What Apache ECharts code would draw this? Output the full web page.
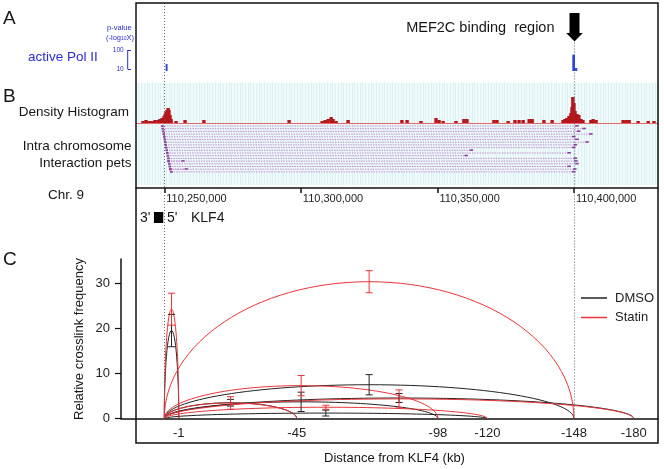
<!DOCTYPE html>
<html>
<head>
<meta charset="utf-8">
<script src="https://cdn.jsdelivr.net/npm/echarts@6/dist/echarts.min.js"></script>
<style>
html,body{margin:0;padding:0;background:#fff;}
#chart{width:664px;height:469px;}
</style>
</head>
<body>
<div id="chart"></div>
<script>
// ================= DATA =================
// Genomic positions in kb relative to chr9:110,250,000 (KLF4 promoter)
const genomeTickKb = [0, 50, 100, 150];
const genomeTickLabels = ['110,250,000', '110,300,000', '110,350,000', '110,400,000'];
const anchorKb = [0, 150]; // KLF4 promoter, MEF2C binding region

// active Pol II peaks (p-value, -log10)
const polIIStartKb = [0.5, 149.4, 150.4];
const polIIEndKb   = [1.2, 150.4, 151.2];
const polIIPvalue  = [18.3, 56.6, 11.3];
const polIIScaleTicks = [10, 100];

// Density histogram of ChIA-PET tags
const histKb = [-7.8,-6.7,-5.6,-4.5,-3.4,-2.3,-1.6,-0.8,-0.1,0.3,
  0.6,1.0,1.4,1.7,2.1,2.5,4.3,7.6,14.5,45.7,
  57.8,58.9,60.0,61.1,61.8,62.9,67.3,87.0,88.9,94.0,
  99.5,100.6,102.1,106.8,109.7,110.8,120.7,121.8,125.9,128.4,
  129.9,131.4,133.6,134.7,139.0,142.0,146.0,146.7,147.4,148.2,
  148.9,149.3,149.6,150.0,150.4,151.1,151.8,152.6,153.3,156.2,
  157.0,158.1,168.0,169.1,170.2,173.5,177.2,179.3];
const histDensity = [2,3,2,2,3,3,4,5,7,9,
  11,13,15,13,8,4,2,3,3,3,
  2,3,4,6,4,2,3,3,3,2,
  5,3,2,2,4,4,3,3,2,3,
  3,3,4,4,3,3,3,4,5,7,
  10,16,26,20,12,9,8,4,3,3,
  4,3,3,3,3,2,2,2];

// Intra-chromosome interaction PETs (row, start, end)
const petRow     = [0,1,2,3,4,5,6,7,8,9,10,11,12,13,13,14,15,16,16,17];
const petStartKb = [-0.8,-0.7,-0.5,-0.3,-0.1,0.1,0.3,0.4,0.6,0.8,1.0,1.2,1.4,1.5,1.5,1.7,1.9,2.1,2.1,2.5];
const petEndKb   = [151.4,154.0,152.0,156.5,150.2,151.4,155.1,150.8,150.2,112.7,148.5,110.8,150.8,7.1,151.0,151.4,148.5,8.3,150.6,150.2];

const klf4GeneKb = [-3.8, -0.4];

// Panel C: 3C relative crosslink frequency
const distLabels = ['-1', '-45', '-98', '-120', '-148', '-180'];
const arcEndPos  = [5.3, 48.5, 100.2, 118.3, 150, 171.9];
const yTicks = [0, 10, 20, 30];
const dmsoMean   = [19.6, 3.55, 3.75, 1.25, 7.55, 4.6];
const dmsoErr    = [3.6, 0.75, 2.15, 0.65, 2.25, 1.0];
const statinMean = [24.35, 3.5, 7.35, 2.55, 30.45, 4.4];
const statinErr  = [3.55, 1.4, 2.25, 0.45, 2.45, 2.0];

// ================= CHART =================
const FONT = '"Liberation Sans", Arial, Helvetica, sans-serif';
const BLUE = '#2c2ccf';
const BLACK = '#222222';
const RED = '#e8353a';
const GMIN = -10.363, GMAX = 180.776;
const CMIN = -15.855, CMAX = 180.776;

const chart = echarts.init(document.getElementById('chart'), null, {renderer: 'canvas'});

function hiddenX(gi) {
  return {gridIndex: gi, type: 'value', min: GMIN, max: GMAX, show: false};
}
function hiddenY(gi, min, max, inverse) {
  return {gridIndex: gi, type: 'value', min: min, max: max, show: false, inverse: !!inverse};
}
function stripedX(gi, lineColor) {
  return {
    gridIndex: gi, type: 'value', min: GMIN, max: GMAX, interval: 1, position: 'bottom',
    axisLine: {show: !!lineColor, onZero: false, lineStyle: {color: lineColor || '#000', width: 1}},
    axisTick: {show: false}, axisLabel: {show: false},
    splitLine: {show: true, lineStyle: {color: '#dcf2f2', width: 1}}
  };
}

function arcRenderer(color) {
  return function (params, api) {
    const end = api.value(0), h = api.value(1);
    const p0 = api.coord([0, 0]);
    const p1 = api.coord([end, 0]);
    const pk = api.coord([end / 2, h]);
    const a = (p1[0] - p0[0]) / 2, cx = (p0[0] + p1[0]) / 2;
    const yb = p0[1], yt = pk[1], H = yb - yt, k = 0.5523;
    const st = {stroke: color, fill: 'none', lineWidth: 1};
    return {type: 'group', children: [
      {type: 'bezierCurve', shape: {x1: p0[0], y1: yb, cpx1: p0[0], cpy1: yb - k * H, cpx2: cx - k * a, cpy2: yt, x2: cx, y2: yt}, style: st},
      {type: 'bezierCurve', shape: {x1: cx, y1: yt, cpx1: cx + k * a, cpy1: yt, cpx2: p1[0], cpy2: yb - k * H, x2: p1[0], y2: yb}, style: st}
    ]};
  };
}
function errRenderer(color) {
  return function (params, api) {
    const x = api.value(0) / 2, m = api.value(1), e = api.value(2);
    const t = api.coord([x, m + e]), b = api.coord([x, m - e]);
    const w = 3.5;
    const st = {stroke: color, lineWidth: 1};
    return {type: 'group', children: [
      {type: 'line', shape: {x1: t[0], y1: t[1], x2: b[0], y2: b[1]}, style: st},
      {type: 'line', shape: {x1: t[0] - w, y1: t[1], x2: t[0] + w, y2: t[1]}, style: st},
      {type: 'line', shape: {x1: b[0] - w, y1: b[1], x2: b[0] + w, y2: b[1]}, style: st}
    ]};
  };
}

function txt(text, x, y, size, style, extra) {
  return Object.assign({
    type: 'text', x: x, y: y, silent: true, z: 50,
    style: Object.assign({text: text, fontSize: size, fontFamily: FONT, fill: '#161616', align: 'left', verticalAlign: 'middle'}, style || {})
  }, extra || {});
}

const option = {
  animation: false,
  backgroundColor: '#ffffff',
  textStyle: {fontFamily: FONT},
  grid: [
    {left: 136, right: 6, top: 3, height: 185},                                                     // 0 genome axis
    {left: 136, right: 6, top: 40, height: 31},                                                     // 1 Pol II
    {left: 136, right: 6, top: 83, height: 40, show: true, backgroundColor: '#f2fbfb', borderWidth: 0},  // 2 histogram
    {left: 136, right: 6, top: 123, height: 62, show: true, backgroundColor: '#f2fbfb', borderWidth: 0}, // 3 PETs
    {left: 136, right: 6, top: 212, height: 11},                                                    // 4 gene
    {left: 136, right: 6, top: 3, height: 415.7},                                                   // 5 guides
    {left: 121, right: 6, top: 259, height: 159.7}                                                  // 6 panel C
  ],
  xAxis: [
    {
      gridIndex: 0, type: 'value', min: GMIN, max: GMAX, position: 'bottom',
      axisLine: {onZero: false, lineStyle: {color: '#111', width: 1.5}},
      axisTick: {customValues: genomeTickKb, length: 5, lineStyle: {color: '#111', width: 1.5}},
      axisLabel: {
        customValues: genomeTickKb, align: 'left', margin: 5, fontSize: 11, color: '#222', fontFamily: FONT,
        padding: [0, 0, 0, 2],
        formatter: function (v) { const i = genomeTickKb.findIndex(p => Math.abs(p - v) < 1e-6); return i >= 0 ? genomeTickLabels[i] : ''; }
      },
      splitLine: {show: false}
    },
    hiddenX(1),
    stripedX(2, '#e06a6a'),
    stripedX(3, null),
    hiddenX(4),
    hiddenX(5),
    {
      gridIndex: 6, type: 'value', min: CMIN, max: CMAX,
      axisLine: {onZero: false, lineStyle: {color: '#111', width: 1.5}},
      axisTick: {show: false},
      axisLabel: {
        customValues: arcEndPos, fontSize: 13, color: '#222', margin: 8, fontFamily: FONT,
        formatter: function (v) { const i = arcEndPos.findIndex(p => Math.abs(p - v) < 1e-6); return i >= 0 ? distLabels[i] : ''; }
      },
      splitLine: {show: false}
    }
  ],
  yAxis: [
    hiddenY(0, 0, 1),
    {
      gridIndex: 1, type: 'log', min: 7.85, max: 335.6, position: 'left', offset: 8.3,
      axisLine: {show: false, onZero: false},
      axisTick: {customValues: polIIScaleTicks, inside: true, length: 3.3, lineStyle: {color: BLUE, width: 1}},
      axisLabel: {customValues: polIIScaleTicks, fontSize: 6.5, color: BLUE, margin: 4, fontFamily: FONT},
      splitLine: {show: false}
    },
    hiddenY(2, 0, 40),
    hiddenY(3, -1.11, 21.85, true),
    hiddenY(4, 0, 1),
    hiddenY(5, 0, 1),
    {
      gridIndex: 6, type: 'value', min: 0, max: 35.5,
      axisLine: {show: true, onZero: false, lineStyle: {color: '#111', width: 1.5}},
      axisTick: {show: true, customValues: yTicks, length: 6, lineStyle: {color: '#111', width: 1.2}},
      axisLabel: {customValues: yTicks, fontSize: 13, color: '#222', margin: 11, fontFamily: FONT},
      splitLine: {show: false}
    }
  ],
  legend: {
    data: ['DMSO', 'Statin'], orient: 'vertical', left: 581, top: 291.5, padding: 0,
    itemWidth: 26, itemHeight: 1.5, itemGap: 6.5, icon: 'rect', selectedMode: false,
    textStyle: {fontSize: 13, color: '#222', fontFamily: FONT, padding: [0, 0, 0, 3]}
  },
  series: [
    { // Pol II peaks
      type: 'custom', xAxisIndex: 1, yAxisIndex: 1,
      data: polIIStartKb.map((s, i) => [s, polIIEndKb[i], polIIPvalue[i]]),
      renderItem: function (params, api) {
        const a = api.coord([api.value(0), api.value(2)]);
        const b = api.coord([api.value(1), api.value(2)]);
        const bottom = params.coordSys.y + params.coordSys.height;
        return {type: 'rect', shape: {x: a[0], y: a[1], width: Math.max(1, b[0] - a[0]), height: bottom - a[1]}, style: {fill: '#2a46e0'}};
      }
    },
    { // Pol II p-value scale bracket
      type: 'custom', xAxisIndex: 1, yAxisIndex: 1,
      data: [[polIIScaleTicks[0], polIIScaleTicks[1]]],
      renderItem: function (params, api) {
        const lo = api.coord([GMIN, api.value(0)]), hi = api.coord([GMIN, api.value(1)]);
        const x = params.coordSys.x - 8.3;
        return {type: 'line', shape: {x1: x, y1: lo[1], x2: x, y2: hi[1]}, style: {stroke: BLUE, lineWidth: 1}};
      }
    },
    { // density histogram
      type: 'custom', xAxisIndex: 2, yAxisIndex: 2,
      data: histKb.map((k, i) => [k, histDensity[i]]),
      renderItem: function (params, api) {
        const top = api.coord([api.value(0), api.value(1)]);
        const base = api.coord([api.value(0), 0]);
        const w = api.size([1, 0])[0] * 1.25;
        return {type: 'rect', shape: {x: top[0] - w / 2, y: top[1], width: w, height: base[1] - top[1]}, style: {fill: '#b5161c'}};
      }
    },
    { // interaction PETs
      type: 'custom', xAxisIndex: 3, yAxisIndex: 3,
      data: petRow.map((r, i) => [petStartKb[i], petEndKb[i], r]),
      renderItem: function (params, api) {
        const s = api.coord([api.value(0), api.value(2)]);
        const e = api.coord([api.value(1), api.value(2)]);
        return {type: 'group', children: [
          {type: 'line', shape: {x1: s[0], y1: s[1], x2: e[0], y2: e[1]}, style: {stroke: '#b776c6', lineWidth: 0.8, lineDash: [1.5, 1]}},
          {type: 'rect', shape: {x: s[0] - 1, y: s[1] - 1, width: 2.5, height: 2}, style: {fill: '#8f3fa0'}},
          {type: 'rect', shape: {x: e[0] - 2.5, y: e[1] - 1, width: 3.5, height: 1.6}, style: {fill: '#8f3fa0'}}
        ]};
      }
    },
    { // KLF4 gene body
      type: 'custom', xAxisIndex: 4, yAxisIndex: 4,
      data: [[klf4GeneKb[0], klf4GeneKb[1]]],
      renderItem: function (params, api) {
        const a = api.coord([api.value(0), 1]), b = api.coord([api.value(1), 0]);
        return {type: 'rect', shape: {x: a[0], y: a[1], width: b[0] - a[0], height: b[1] - a[1]}, style: {fill: '#000'}};
      }
    },
    { // guide lines through KLF4 / MEF2C anchors, arrow and label
      type: 'custom', xAxisIndex: 5, yAxisIndex: 5, z: 5,
      data: anchorKb.map(k => [k]),
      renderItem: function (params, api) {
        const p = api.coord([api.value(0), 0]);
        const cs = params.coordSys;
        const x = Math.round(p[0]) + 0.5;
        const bottom = cs.y + cs.height;
        const lineStyle = {stroke: '#555', lineWidth: 0.9, lineDash: [1, 2]};
        if (params.dataIndex === 0) {
          return {type: 'line', shape: {x1: x, y1: cs.y, x2: x, y2: bottom}, style: lineStyle};
        }
        const t = cs.y + 10, hb = cs.y + 30, tip = cs.y + 38.5;
        return {type: 'group', children: [
          {type: 'line', shape: {x1: x, y1: tip + 1, x2: x, y2: bottom}, style: lineStyle},
          {type: 'polygon', shape: {points: [[x - 5, t], [x + 5, t], [x + 5, hb], [x + 8.3, hb], [x, tip], [x - 8.3, hb], [x - 5, hb]]}, style: {fill: '#000'}},
          {type: 'text', x: x - 20, y: cs.y + 25, style: {text: 'MEF2C binding  region', fontSize: 14.5, fontFamily: FONT, fill: '#161616', align: 'right', verticalAlign: 'middle'}}
        ]};
      }
    },
    { // DMSO arcs
      name: 'DMSO', type: 'custom', xAxisIndex: 6, yAxisIndex: 6, z: 3,
      itemStyle: {color: BLACK},
      data: arcEndPos.map((p, i) => [p, dmsoMean[i]]),
      renderItem: arcRenderer(BLACK)
    },
    { // Statin arcs
      name: 'Statin', type: 'custom', xAxisIndex: 6, yAxisIndex: 6, z: 4,
      itemStyle: {color: RED},
      data: arcEndPos.map((p, i) => [p, statinMean[i]]),
      renderItem: arcRenderer(RED)
    },
    { // DMSO error bars
      name: 'DMSO', type: 'custom', xAxisIndex: 6, yAxisIndex: 6, z: 5,
      itemStyle: {color: BLACK},
      data: arcEndPos.map((p, i) => [p, dmsoMean[i], dmsoErr[i]]),
      renderItem: errRenderer(BLACK)
    },
    { // Statin error bars
      name: 'Statin', type: 'custom', xAxisIndex: 6, yAxisIndex: 6, z: 6,
      itemStyle: {color: RED},
      data: arcEndPos.map((p, i) => [p, statinMean[i], statinErr[i]]),
      renderItem: errRenderer(RED)
    }
  ],
  graphic: [
    {type: 'rect', z: 60, silent: true, shape: {x: 136, y: 3, width: 522, height: 440}, style: {fill: 'none', stroke: '#111', lineWidth: 1.5}},
    txt('A', 3, 19, 19),
    txt('B', 3, 97, 19),
    txt('C', 3, 260, 19),
    txt('active Pol II', 28, 57, 13.5, {fill: BLUE}),
    txt('p-value', 107, 28, 7.5, {fill: BLUE}),
    txt('(-log{s|10}X)', 106, 37.5, 7.5, {fill: BLUE, rich: {s: {fontSize: 5, fill: BLUE, verticalAlign: 'bottom', fontFamily: FONT}}}),
    txt('Density Histogram', 129, 112, 13.5, {align: 'right'}),
    txt('Intra chromosome', 131.5, 146, 13.5, {align: 'right'}),
    txt('Interaction pets', 131.5, 163, 13.5, {align: 'right'}),
    txt('Chr. 9', 48, 195, 13.5),
    txt("3'", 140, 218, 14),
    txt("5'", 167, 218, 14),
    txt('KLF4', 191, 218, 14),
    txt('Relative crosslink frequency', 79, 339, 13, {align: 'center'}, {rotation: Math.PI / 2}),
    txt('Distance from KLF4 (kb)', 394.5, 458, 13, {align: 'center'})
  ]
};

chart.setOption(option);
</script>
</body>
</html>
